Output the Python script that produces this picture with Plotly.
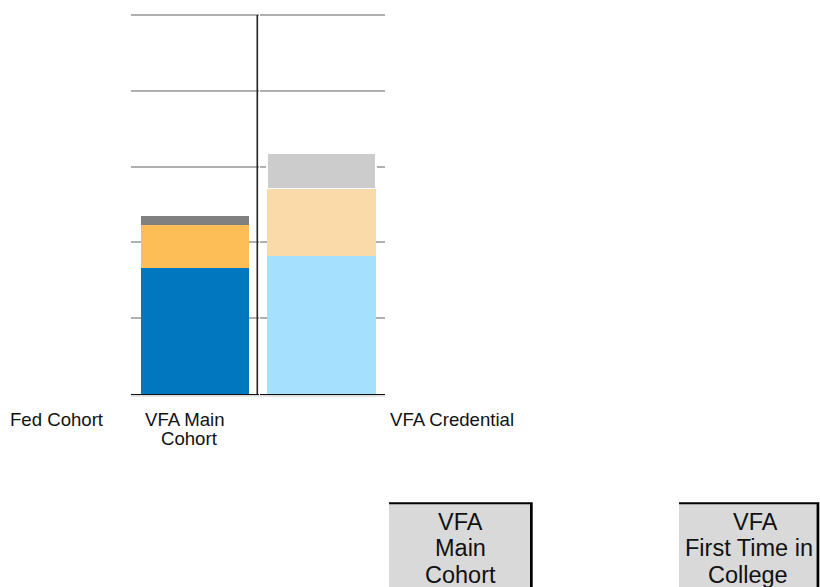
import plotly.graph_objects as go

W, H = 820, 587

# ---- data ----
left_category = ["VFA Main Cohort"]
right_category = ["VFA Credential"]
segment_names = ["Segment A", "Segment B", "Segment C"]
main_cohort_values = [33.2, 11.4, 2.4]
credential_values = [36.5, 17.7, 9.4]
main_colors = ["#0077BE", "#FDBD57", "#808080"]
credential_colors = ["#A6E0FF", "#F9DAA8", "#CCCCCC"]
y_ticks = [0, 20, 40, 60, 80, 100]

axis_labels = [("Fed Cohort", 57.2, 419.5), ("VFA Main", 185.3, 419.5), ("Cohort", 189.5, 438.5),
               ("VFA Credential", 451.7, 419.5)]
button1_lines = [("VFA", 460, 521.8), ("Main", 460, 548.3), ("Cohort", 460, 574.8)]
button2_lines = [("VFA", 755, 521.8), ("First Time in", 749, 548.3), ("College", 747.5, 574.8)]


def px(x):
    return x / W


def py(y):
    return 1 - y / H


FONT = "Liberation Sans, Arial, sans-serif"

fig = go.Figure()
for i, name in enumerate(segment_names):
    fig.add_trace(go.Bar(x=left_category, y=[main_cohort_values[i]], name=name,
                         marker=dict(color=main_colors[i], line=dict(width=0)),
                         width=0.85, xaxis="x", yaxis="y", showlegend=False))
for i, name in enumerate(segment_names):
    line = dict(width=1.5, color="white") if i == 2 else dict(width=0)
    fig.add_trace(go.Bar(x=right_category, y=[credential_values[i]], name=name,
                         marker=dict(color=credential_colors[i], line=line),
                         width=0.874, xaxis="x2", yaxis="y2", showlegend=False))

# plot area: value 0 at pixel 394, value 100 at pixel 15; extend 2px above so top grid shows
top_px = 13
y_top_val = 100 * (394 - top_px) / (394 - 15)
ydom = [py(394), py(top_px)]
common_y = dict(range=[0, y_top_val], tickvals=y_ticks, showticklabels=False, showgrid=True,
                gridcolor="#B0B0B0", gridwidth=1.5, zeroline=False, showline=False, fixedrange=True)
common_x = dict(showticklabels=False, showgrid=False, zeroline=False, showline=True,
                linecolor="#111111", linewidth=1.2, ticks="")

fig.update_layout(
    width=W, height=H, margin=dict(l=0, r=0, t=0, b=0),
    paper_bgcolor="white", plot_bgcolor="rgba(0,0,0,0)", barmode="stack",
    xaxis=dict(domain=[px(131), px(259)], anchor="y", range=[-0.5, 0.5], **common_x),
    yaxis=dict(domain=ydom, anchor="x", **common_y),
    xaxis2=dict(domain=[px(260.3), px(385)], anchor="y2", range=[-0.491, 0.509], **common_x),
    yaxis2=dict(domain=ydom, anchor="x2", **common_y),
    font=dict(family=FONT, color="#111111"),
)

shapes = []
# light line under the baseline
shapes.append(dict(type="line", xref="paper", yref="paper", x0=px(131), x1=px(385),
                   y0=py(395.8), y1=py(395.8), line=dict(color="#D0D0D0", width=1.2), layer="below"))
# vertical divider
shapes.append(dict(type="line", xref="paper", yref="paper", x0=px(257.3), x1=px(257.3),
                   y0=py(394), y1=py(15), line=dict(color="#222222", width=1.6)))
# buttons (black shadow + gray face)
for (l, r) in [(389, 532.7), (679, 819.3)]:
    shapes.append(dict(type="rect", xref="paper", yref="paper", x0=px(l), x1=px(r),
                       y0=py(600), y1=py(502.3), fillcolor="#000000", line=dict(width=0)))
    shapes.append(dict(type="rect", xref="paper", yref="paper", x0=px(l), x1=px(r - 2.7),
                       y0=py(600), y1=py(504.3), fillcolor="#D9D9D9", line=dict(width=0)))
fig.update_layout(shapes=shapes)

annotations = []
for text, x, y in axis_labels:
    annotations.append(dict(text=text, x=px(x), y=py(y), xref="paper", yref="paper",
                            xanchor="center", yanchor="middle", showarrow=False,
                            font=dict(size=18.6, family=FONT, color="#111111")))
for text, x, y in button1_lines + button2_lines:
    annotations.append(dict(text=text, x=px(x), y=py(y), xref="paper", yref="paper",
                            xanchor="center", yanchor="middle", showarrow=False,
                            font=dict(size=23.5, family=FONT, color="#111111")))
fig.update_layout(annotations=annotations)

fig.write_html("out.html")
